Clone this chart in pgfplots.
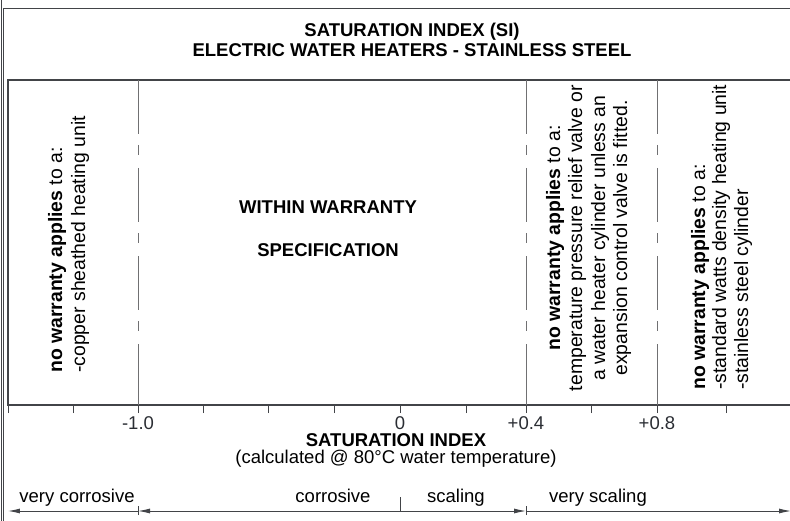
\documentclass[border=0pt]{standalone}
\usepackage{pgfplots}
\pgfplotsset{compat=1.18}
\usetikzlibrary{arrows.meta}
\usepackage{fontspec}
\setmainfont{Liberation Sans}
\definecolor{txt}{RGB}{42,45,51}
\definecolor{lin}{RGB}{66,68,72}
\definecolor{zone}{RGB}{112,112,114}
\newcommand{\fs}{\fontsize{18.5}{22}\selectfont}
\newcommand{\fr}{\fontsize{19.4}{23}\selectfont}
\begin{document}
\begin{tikzpicture}[x=1pt,y=1pt]
\useasboundingbox (0,0) rectangle (790,520);
\clip (0,0) rectangle (790,520);
% outer frame
\draw[lin, line width=1pt] (3.5,-10) -- (3.5,511) -- (800,511);
\draw[lin, line width=0.8pt] (1,-10) -- (1,530);
\begin{axis}[
  at={(8pt,115pt)}, anchor=south west,
  scale only axis, width=792pt, height=325pt,
  xmin=8, xmax=800, ymin=115, ymax=440,
  clip=false,
  axis line style={draw=lin, line width=1.1pt},
  xtick={8,73,138,203,268,334,400,466,526,591,657,726},
  xticklabels={,,-1.0,,,,0,,+0.4,,+0.8,},
  xtick pos=bottom, ytick=\empty,
  tick align=outside, major tick length=8pt,
  tick style={draw=lin, line width=0.9pt},
  xticklabel style={font=\fs, text=txt, inner sep=3pt},
  every node/.append style={text=txt},
]
% zone boundaries at SI = -1.0, +0.4, +0.8
\addplot[zone, line width=1pt, dash pattern=on 54pt off 11pt on 10pt off 13pt] coordinates {(138,440) (138,115)};
\addplot[zone, line width=1pt, dash pattern=on 54pt off 11pt on 10pt off 13pt] coordinates {(526,440) (526,115)};
\addplot[zone, line width=1pt, dash pattern=on 54pt off 11pt on 10pt off 13pt] coordinates {(657,440) (657,115)};
\addplot[zone, line width=1pt] coordinates {(138,124) (138,115)};
\addplot[zone, line width=1pt] coordinates {(526,124) (526,115)};
\addplot[zone, line width=1pt] coordinates {(657,124) (657,115)};

% title
\node[anchor=base, font=\fs\bfseries] at (axis cs:412,483) {SATURATION INDEX (SI)};
\node[anchor=base, font=\fs\bfseries] at (axis cs:412,463) {ELECTRIC WATER HEATERS - STAINLESS STEEL};

% axis label
\node[anchor=base, font=\fs\bfseries, inner sep=1pt] at (axis cs:396,74) {SATURATION INDEX};
\node[anchor=base, font=\fs, inner sep=1pt] at (axis cs:396,57) {(calculated @ 80°C water temperature)};

% zone 1
\node[rotate=90, anchor=base west, font=\fr, inner sep=0pt] at (axis cs:62,147) {\textbf{no warranty applies} to a:};
\node[rotate=90, anchor=base west, font=\fr, inner sep=0pt] at (axis cs:85,147) {-copper sheathed heating unit};

% middle
\node[anchor=base, font=\fs\bfseries] at (axis cs:328,306.4) {WITHIN WARRANTY};
\node[anchor=base, font=\fs\bfseries] at (axis cs:328,263.4) {SPECIFICATION};

% zone 3
\node[rotate=90, anchor=base, font=\fr, inner sep=0pt] at (axis cs:560,282) {\textbf{no warranty applies} to a:};
\node[rotate=90, anchor=base, font=\fr, inner sep=0pt] at (axis cs:582,282) {temperature pressure relief valve or};
\node[rotate=90, anchor=base, font=\fr, inner sep=0pt] at (axis cs:605,282) {a water heater cylinder unless an};
\node[rotate=90, anchor=base, font=\fr, inner sep=0pt] at (axis cs:627,282) {expansion control valve is fitted.};

% zone 4
\node[rotate=90, anchor=base west, font=\fr, inner sep=0pt] at (axis cs:705,130) {\textbf{no warranty applies} to a:};
\node[rotate=90, anchor=base west, font=\fr, inner sep=0pt] at (axis cs:726,130) {-standard watts density heating unit};
\node[rotate=90, anchor=base west, font=\fr, inner sep=0pt] at (axis cs:748,130) {-stainless steel cylinder};

% bottom ranges
\draw[lin, line width=0.9pt, -{Latex[length=12pt,width=5pt]}] (axis cs:138,9) -- (axis cs:8,9);
\draw[lin, line width=0.9pt, {Latex[length=12pt,width=5pt]}-{Latex[length=12pt,width=5pt]}] (axis cs:138,9) -- (axis cs:526,9);
\draw[lin, line width=0.9pt, -{Latex[length=12pt,width=5pt]}] (axis cs:526,9) -- (axis cs:791,9);
\draw[lin, line width=0.9pt] (axis cs:138,5) -- (axis cs:138,14);
\draw[lin, line width=0.9pt] (axis cs:526,5) -- (axis cs:526,14);
\draw[lin, line width=0.9pt] (axis cs:400,9) -- (axis cs:400,23);
\node[anchor=base, font=\fs] at (axis cs:77,18) {very corrosive};
\node[anchor=base, font=\fs] at (axis cs:333,18) {corrosive};
\node[anchor=base, font=\fs] at (axis cs:456,18) {scaling};
\node[anchor=base, font=\fs] at (axis cs:598,18) {very scaling};
\end{axis}
\end{tikzpicture}
\end{document}
